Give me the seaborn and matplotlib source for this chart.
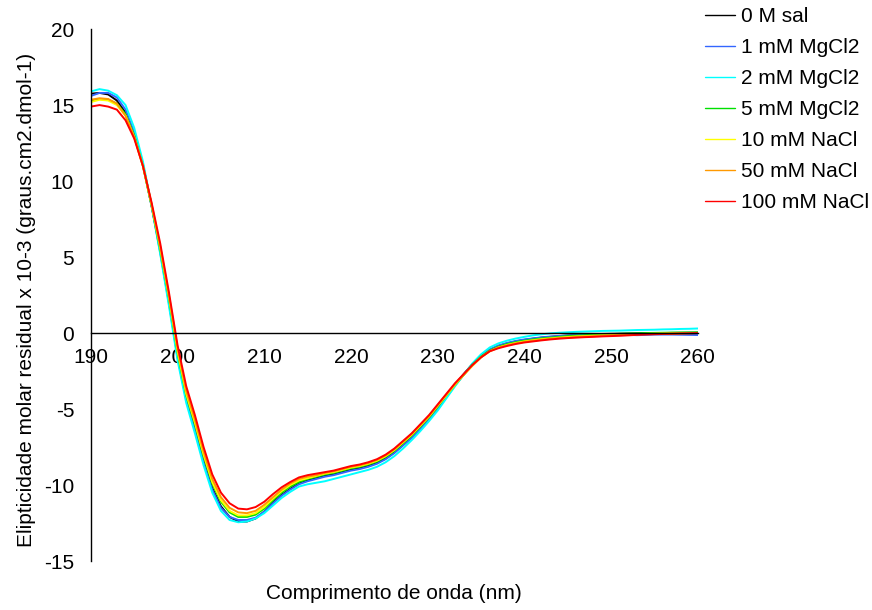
import numpy as np
import pandas as pd
import matplotlib
matplotlib.use("Agg")
import matplotlib.pyplot as plt
import seaborn as sns

# wavelength grid (nm), one reading per nm
wavelength = np.arange(190, 261)

sal0 = [15.75, 15.8, 15.7, 15.3, 14.5, 13.1, 11.1, 8.4, 5.4, 2.1,
        -1.5, -4.3, -6.3, -8.4, -10.2, -11.4, -12.1, -12.4, -12.4, -12.2,
        -11.75, -11.15, -10.65, -10.25, -9.9, -9.7, -9.55, -9.4, -9.3, -9.15,
        -9.0, -8.9, -8.75, -8.55, -8.25, -7.85, -7.35, -6.85, -6.25, -5.6,
        -4.9, -4.15, -3.4, -2.7, -2.05, -1.5, -1.1, -0.85, -0.68, -0.55,
        -0.45, -0.37, -0.3, -0.25, -0.2, -0.16, -0.13, -0.1, -0.08, -0.06,
        -0.05, -0.04, -0.03, -0.02, -0.01, 0.0, 0.0, 0.01, 0.01, 0.02, 0.02]
mg1 = [15.6, 15.8, 15.8, 15.5, 14.7, 13.2, 11.1, 8.35, 5.3, 2.0,
       -1.6, -4.4, -6.4, -8.5, -10.3, -11.5, -12.1, -12.3, -12.3, -12.15,
       -11.75, -11.2, -10.7, -10.3, -9.95, -9.75, -9.6, -9.45, -9.35, -9.2,
       -9.05, -8.95, -8.8, -8.6, -8.3, -7.9, -7.4, -6.9, -6.3, -5.65,
       -4.95, -4.2, -3.45, -2.75, -2.05, -1.5, -1.08, -0.82, -0.65, -0.52,
       -0.42, -0.35, -0.28, -0.23, -0.19, -0.16, -0.14, -0.12, -0.11, -0.1,
       -0.1, -0.1, -0.12, -0.14, -0.12, -0.1, -0.1, -0.1, -0.11, -0.12, -0.13]
mg2 = [15.9, 16.05, 15.95, 15.65, 15.0, 13.5, 11.3, 8.4, 5.2, 1.8,
       -1.8, -4.6, -6.6, -8.7, -10.5, -11.7, -12.3, -12.45, -12.4, -12.2,
       -11.85, -11.35, -10.85, -10.45, -10.1, -9.95, -9.85, -9.75, -9.6, -9.45,
       -9.3, -9.15, -9.0, -8.8, -8.5, -8.1, -7.6, -7.05, -6.45, -5.8,
       -5.1, -4.3, -3.5, -2.75, -2.0, -1.4, -0.95, -0.68, -0.5, -0.36,
       -0.25, -0.15, -0.08, -0.02, 0.02, 0.05, 0.08, 0.1, 0.12, 0.14,
       0.15, 0.16, 0.18, 0.2, 0.21, 0.22, 0.24, 0.25, 0.27, 0.28, 0.3]
mg5 = [15.3, 15.4, 15.35, 15.1, 14.4, 13.0, 11.0, 8.4, 5.5, 2.3,
       -1.3, -4.1, -6.0, -8.1, -9.9, -11.1, -11.8, -12.1, -12.1, -11.95,
       -11.55, -11.0, -10.5, -10.1, -9.8, -9.6, -9.45, -9.3, -9.2, -9.05,
       -8.9, -8.8, -8.65, -8.45, -8.15, -7.75, -7.25, -6.75, -6.15, -5.55,
       -4.85, -4.1, -3.4, -2.75, -2.1, -1.55, -1.15, -0.9, -0.72, -0.6,
       -0.5, -0.42, -0.35, -0.3, -0.25, -0.2, -0.17, -0.14, -0.11, -0.09,
       -0.07, -0.05, -0.03, -0.02, 0.0, 0.01, 0.02, 0.03, 0.04, 0.04, 0.05]
na10 = [15.2, 15.35, 15.3, 15.0, 14.3, 12.9, 11.0, 8.45, 5.6, 2.4,
        -1.2, -4.0, -5.9, -8.0, -9.8, -11.0, -11.7, -12.0, -12.0, -11.85,
        -11.45, -10.9, -10.4, -10.0, -9.7, -9.55, -9.4, -9.25, -9.15, -9.0,
        -8.85, -8.75, -8.6, -8.4, -8.1, -7.7, -7.2, -6.7, -6.1, -5.5,
        -4.8, -4.1, -3.4, -2.75, -2.15, -1.6, -1.2, -0.95, -0.78, -0.65,
        -0.55, -0.47, -0.4, -0.35, -0.3, -0.26, -0.22, -0.2, -0.17, -0.15,
        -0.13, -0.11, -0.09, -0.07, -0.05, -0.04, -0.03, -0.02, -0.01, 0.0, 0.0]
na50 = [15.35, 15.45, 15.4, 15.1, 14.3, 12.9, 11.0, 8.5, 5.7, 2.5,
        -1.0, -3.8, -5.7, -7.8, -9.6, -10.8, -11.5, -11.8, -11.85, -11.7,
        -11.3, -10.8, -10.3, -9.9, -9.6, -9.45, -9.35, -9.2, -9.1, -8.95,
        -8.8, -8.7, -8.55, -8.35, -8.05, -7.65, -7.15, -6.65, -6.05, -5.45,
        -4.75, -4.05, -3.35, -2.75, -2.15, -1.6, -1.2, -0.95, -0.8, -0.68,
        -0.58, -0.5, -0.44, -0.38, -0.33, -0.3, -0.26, -0.23, -0.2, -0.18,
        -0.15, -0.13, -0.1, -0.08, -0.06, -0.05, -0.04, -0.03, -0.02, -0.01, 0.0]
na100 = [14.9, 15.0, 14.9, 14.7, 14.0, 12.8, 11.0, 8.6, 5.9, 2.7,
         -0.8, -3.5, -5.4, -7.5, -9.3, -10.5, -11.2, -11.55, -11.6, -11.45,
         -11.1, -10.6, -10.15, -9.8, -9.5, -9.35, -9.25, -9.15, -9.05, -8.9,
         -8.75, -8.65, -8.5, -8.3, -8.0, -7.6, -7.1, -6.6, -6.0, -5.4,
         -4.7, -4.0, -3.3, -2.7, -2.1, -1.6, -1.2, -1.0, -0.85, -0.72,
         -0.62, -0.55, -0.48, -0.42, -0.37, -0.33, -0.3, -0.27, -0.25, -0.22,
         -0.2, -0.18, -0.15, -0.12, -0.1, -0.08, -0.06, -0.05, -0.03, -0.02, 0.0]

labels = ['0 M sal', '1 mM MgCl2', '2 mM MgCl2', '5 mM MgCl2',
          '10 mM NaCl', '50 mM NaCl', '100 mM NaCl']
series = [sal0, mg1, mg2, mg5, na10, na50, na100]
colors = ['#000000', '#3366FF', '#00FFFF', '#00E000',
          '#FFFF00', '#FF9900', '#FF0000']

df = pd.concat([pd.DataFrame({'nm': wavelength, 'val': s, 'amostra': lab})
                for s, lab in zip(series, labels)], ignore_index=True)

sns.set_style("white")
plt.rcParams['font.family'] = ['Liberation Sans', 'DejaVu Sans']
plt.rcParams['axes.unicode_minus'] = False
plt.rcParams['text.color'] = 'black'
plt.rcParams['axes.labelcolor'] = 'black'

fig = plt.figure(figsize=(8.72, 6.10), dpi=100)
ax = fig.add_axes([0.1042, 0.0803, 0.696, 0.872])

sns.lineplot(data=df, x='nm', y='val', hue='amostra', hue_order=labels,
             palette=dict(zip(labels, colors)), linewidth=1.4, ax=ax)

ax.set_xlim(190, 260)
ax.set_ylim(-15, 20)
ax.set_xticks(np.arange(190, 261, 10))
ax.set_yticks(np.arange(-15, 21, 5))
ax.spines['top'].set_visible(False)
ax.spines['right'].set_visible(False)
ax.spines['bottom'].set_position(('data', 0))
for sp in ['left', 'bottom']:
    ax.spines[sp].set_color('black')
    ax.spines[sp].set_linewidth(1.0)
ax.tick_params(axis='both', direction='out', length=6, width=1.0,
               color='black', labelsize=15, labelcolor='black')
ax.tick_params(axis='x', pad=5)
ax.tick_params(axis='y', pad=6)

ax.set_xlabel('Comprimento de onda (nm)', fontsize=15)
ax.xaxis.set_label_coords(0.5, -0.043)
ax.set_ylabel('Elipticidade molar residual x 10-3 (graus.cm2.dmol-1)', fontsize=15)
ax.yaxis.set_label_coords(-0.09, 0.49)

leg = ax.legend(loc='upper left', bbox_to_anchor=(0.8066, 0.992),
                bbox_transform=fig.transFigure, frameon=False, fontsize=15,
                handlelength=1.4, handletextpad=0.3, labelspacing=0.58,
                borderpad=0.1, borderaxespad=0)
for h in leg.get_lines():
    h.set_linewidth(1.0)
for t in leg.get_texts():
    t.set_color('black')

fig.savefig('out.png', dpi=100)
